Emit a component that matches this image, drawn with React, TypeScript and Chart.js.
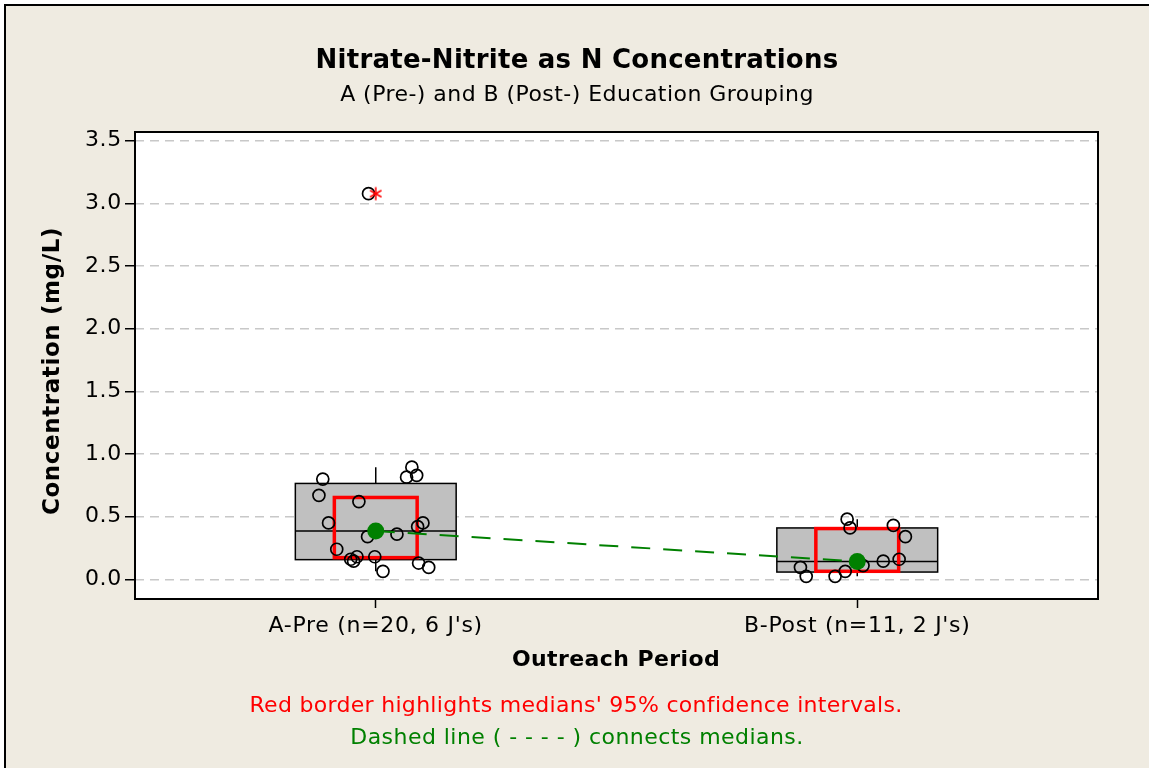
import { useEffect, useRef } from "react";
import { Chart, registerables } from "chart.js";

Chart.register(...registerables);

// ---------- data ----------
const categories = ["A-Pre (n=20, 6 J's)", "B-Post (n=11, 2 J's)"];
const categoryPositions = [1, 2];
const yTickValues = [0, 0.5, 1, 1.5, 2, 2.5, 3, 3.5];

const preValues = [0.8, 0.67, 0.62, 0.45, 0.895, 0.815, 0.83, 0.45, 0.42, 0.34, 0.36, 0.24, 0.16, 0.145, 0.18, 0.18, 0.064, 0.13, 0.095, 3.077];
const preJitter = [-0.11, -0.118, -0.035, -0.098, 0.075, 0.064, 0.085, 0.098, 0.087, -0.017, 0.044, -0.081, -0.052, -0.046, -0.039, -0.002, 0.015, 0.089, 0.11, -0.015];
const postValues = [0.48, 0.41, 0.43, 0.34, 0.145, 0.16, 0.096, 0.024, 0.024, 0.064, 0.11];
const postJitter = [-0.021, -0.015, 0.075, 0.1, 0.054, 0.087, -0.118, -0.106, -0.046, -0.025, 0.012];

const q1 = [0.157, 0.058];
const medians = [0.386, 0.142];
const q3 = [0.765, 0.41];
const whiskerLow = [0.064, 0.024];
const whiskerHigh = [0.895, 0.48];
const ciLow = [0.173, 0.064];
const ciHigh = [0.653, 0.405];
const outlierCategory = [1];
const outlierValues = [3.077];

const titleText = "Nitrate-Nitrite as N Concentrations";
const subtitleText = "A (Pre-) and B (Post-) Education Grouping";
const yTitleText = "Concentration (mg/L)";
const xTitleText = "Outreach Period";
const note1Text = "Red border highlights medians' 95% confidence intervals.";
const note2Text = "Dashed line ( - - - - ) connects medians.";

// ---------- style ----------
const W = 1149;
const H = 768;
const FONT = '"DejaVu Sans", Verdana, sans-serif';
const BG = "#efebe1";
const BOX_HALF = 0.167;
const CI_HALF = 0.086;
const GREEN = "#008000";
const RED = "#ff0000";

function makeAsterisk(): HTMLCanvasElement {
  const c = document.createElement("canvas");
  c.width = 16;
  c.height = 16;
  const g = c.getContext("2d")!;
  g.strokeStyle = RED;
  g.lineWidth = 1.6;
  g.lineCap = "round";
  const r = 6;
  for (let k = 0; k < 3; k++) {
    const a = Math.PI / 2 + (k * Math.PI) / 3;
    g.beginPath();
    g.moveTo(8 - r * Math.cos(a), 8 - r * Math.sin(a));
    g.lineTo(8 + r * Math.cos(a), 8 + r * Math.sin(a));
    g.stroke();
  }
  return c;
}

function text(ctx: any, s: string, x: number, y: number, font: string, color: string, spacing: number) {
  ctx.font = font;
  ctx.fillStyle = color;
  (ctx as any).letterSpacing = `${spacing}px`;
  ctx.fillText(s, x, y);
}

const decorPlugin = {
  id: "decor",
  beforeDraw(chart: any) {
    const { ctx, chartArea: a } = chart;
    ctx.save();
    ctx.fillStyle = "#ffffff";
    ctx.fillRect(0, 0, W, H);
    ctx.fillStyle = BG;
    ctx.fillRect(4, 4, W, H);
    ctx.fillStyle = "#000";
    ctx.fillRect(4, 4, 2, H);
    ctx.fillRect(4, 4, W, 2);
    ctx.fillStyle = "#ffffff";
    ctx.fillRect(a.left, a.top, a.right - a.left, a.bottom - a.top);
    ctx.restore();
    // tick labels are drawn by Chart.js with this spacing
    (ctx as any).letterSpacing = "0.7px";
  },
  beforeDatasetsDraw(chart: any) {
    const { ctx } = chart;
    const x = chart.scales.x;
    const y = chart.scales.y;
    ctx.save();
    categoryPositions.forEach((c, i) => {
      const cx = x.getPixelForValue(c);
      const l = x.getPixelForValue(c - BOX_HALF);
      const r = x.getPixelForValue(c + BOX_HALF);
      const t = y.getPixelForValue(q3[i]);
      const b = y.getPixelForValue(q1[i]);
      ctx.strokeStyle = "#000";
      ctx.lineWidth = 1.5;
      ctx.beginPath();
      ctx.moveTo(cx, t);
      ctx.lineTo(cx, y.getPixelForValue(whiskerHigh[i]));
      ctx.moveTo(cx, b);
      ctx.lineTo(cx, y.getPixelForValue(whiskerLow[i]));
      ctx.stroke();
      ctx.fillStyle = "#c0c0c0";
      ctx.fillRect(l, t, r - l, b - t);
      ctx.strokeRect(l, t, r - l, b - t);
      const m = y.getPixelForValue(medians[i]);
      ctx.beginPath();
      ctx.moveTo(l, m);
      ctx.lineTo(r, m);
      ctx.stroke();
      const cl = x.getPixelForValue(c - CI_HALF);
      const cr = x.getPixelForValue(c + CI_HALF);
      const ct = y.getPixelForValue(ciHigh[i]);
      const cb = y.getPixelForValue(ciLow[i]);
      ctx.strokeStyle = RED;
      ctx.lineWidth = 3.5;
      ctx.strokeRect(cl, ct, cr - cl, cb - ct);
    });
    ctx.restore();
  },
  afterDraw(chart: any) {
    const { ctx, chartArea: a } = chart;
    ctx.save();
    ctx.strokeStyle = "#000";
    ctx.lineWidth = 2;
    ctx.strokeRect(a.left, a.top, a.right - a.left, a.bottom - a.top);
    ctx.textAlign = "center";
    ctx.textBaseline = "middle";
    text(ctx, titleText, 577, 61, `bold 26px ${FONT}`, "#000", 0.25);
    text(ctx, subtitleText, 577, 95, `22px ${FONT}`, "#000", 0.45);
    text(ctx, xTitleText, 616, 660, `bold 22px ${FONT}`, "#000", 0.4);
    ctx.save();
    ctx.translate(53, 371);
    ctx.rotate(-Math.PI / 2);
    text(ctx, yTitleText, 0, 0, `bold 23px ${FONT}`, "#000", 0.6);
    ctx.restore();
    text(ctx, note1Text, 576, 706, `22px ${FONT}`, RED, 0.3);
    text(ctx, note2Text, 577, 738, `22px ${FONT}`, GREEN, 0.45);
    ctx.restore();
  },
};

export default function App() {
  const ref = useRef<HTMLCanvasElement | null>(null);
  useEffect(() => {
    const canvas = ref.current!;
    const asterisk = makeAsterisk();
    const prePoints = preValues.map((v, i) => ({ x: categoryPositions[0] + preJitter[i], y: v }));
    const postPoints = postValues.map((v, i) => ({ x: categoryPositions[1] + postJitter[i], y: v }));
    const chart = new Chart(canvas, {
      type: "scatter",
      data: {
        datasets: [
          {
            type: "scatter",
            data: [...prePoints, ...postPoints],
            pointStyle: "circle",
            pointRadius: 6,
            pointBorderWidth: 1.7,
            pointBorderColor: "#000",
            pointBackgroundColor: "rgba(0,0,0,0)",
            order: 4,
          } as any,
          {
            type: "line",
            data: categoryPositions.map((c, i) => ({ x: c, y: medians[i] })),
            borderColor: GREEN,
            borderWidth: 2,
            borderDash: [19, 13],
            pointRadius: 0,
            fill: false,
            order: 3,
          } as any,
          {
            type: "scatter",
            data: categoryPositions.map((c, i) => ({ x: c, y: medians[i] })),
            pointStyle: "circle",
            pointRadius: 8.5,
            pointBorderWidth: 0,
            pointBackgroundColor: GREEN,
            order: 2,
          } as any,
          {
            type: "scatter",
            data: outlierCategory.map((c, i) => ({ x: c, y: outlierValues[i] })),
            pointStyle: asterisk,
            order: 1,
          } as any,
        ],
      },
      options: {
        animation: false,
        responsive: false,
        devicePixelRatio: 1,
        layout: { padding: { left: 0, top: 132, right: 51, bottom: 99 } },
        plugins: { legend: { display: false }, tooltip: { enabled: false } },
        scales: {
          x: {
            type: "linear",
            min: 0.5,
            max: 2.5,
            afterFit: (s: any) => {
              s.height = 70;
            },
            afterBuildTicks: (s: any) => {
              s.ticks = categoryPositions.map((v) => ({ value: v }));
            },
            ticks: {
              autoSkip: false,
              maxRotation: 0,
              padding: 5,
              color: "#000",
              font: { family: FONT, size: 22 },
              callback: (v: any) => categories[categoryPositions.indexOf(Number(v))] ?? "",
            },
            grid: { drawOnChartArea: false, drawTicks: true, tickLength: 9, tickColor: "#000", tickWidth: 1.5 },
            border: { display: false },
          },
          y: {
            type: "linear",
            min: -0.157,
            max: 3.569,
            afterFit: (s: any) => {
              s.width = 135;
            },
            afterBuildTicks: (s: any) => {
              s.ticks = yTickValues.map((v) => ({ value: v }));
            },
            ticks: {
              padding: 3,
              color: "#000",
              font: { family: FONT, size: 22 },
              callback: (v: any) => Number(v).toFixed(1),
            },
            grid: { color: "#c8c8c8", lineWidth: 1.5, drawTicks: true, tickLength: 10, tickColor: "#000", tickWidth: 1.5 },
            border: { display: false, dash: [9, 6] },
          },
        },
      },
      plugins: [decorPlugin],
    } as any);
    return () => chart.destroy();
  }, []);
  return (
    <div style={{ position: "fixed", left: 0, top: 0, width: W, height: H }}>
      <canvas ref={ref} width={W} height={H} style={{ display: "block" }} />
    </div>
  );
}
